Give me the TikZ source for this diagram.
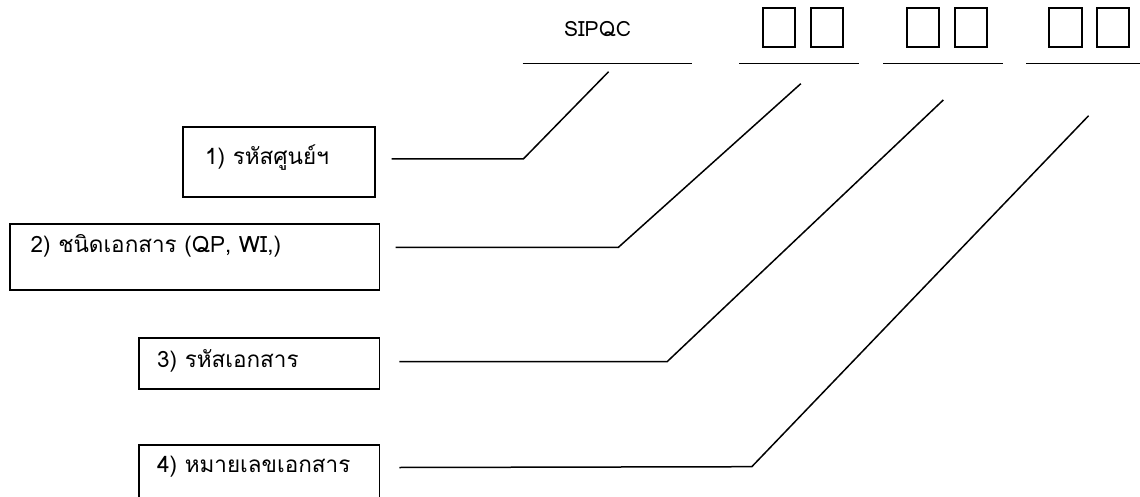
\documentclass[tikz,border=0pt]{standalone}
\usepackage{fontspec}
\newfontfamily\thaifont[Script=Thai]{Loma}
\begin{document}
\begin{tikzpicture}[x=1pt,y=-1pt,
  box/.style={draw, line width=1.8pt, rectangle, inner sep=0pt},
  cell/.style={draw, line width=1.8pt, rectangle, inner sep=0pt,
    minimum width=32.5pt, minimum height=38.5pt},
  lab/.style={anchor=west, inner sep=0pt, font=\thaifont\fontsize{22.5}{26}\selectfont},
  rule/.style={line width=1.8pt},
  link/.style={line width=1.5pt}]
\useasboundingbox (0,0) rectangle (1140,497);

% code header
\node[inner sep=0pt, font=\thaifont\fontsize{21}{25}\selectfont] (code) at (597.5,29.5) {SIPQC};
\draw[rule] (522.5,63.5) -- (691.5,63.5);
\draw[rule] (739,63.5) -- (859,63.5);
\draw[rule] (883,63.5) -- (1003,63.5);
\draw[rule] (1026,63.5) -- (1140,63.5);

% two-digit cells
\node[cell] (s1) at (779,27.5) {};
\node[cell] (s2) at (827,27.5) {};
\node[cell] (s3) at (923,27.5) {};
\node[cell] (s4) at (971,27.5) {};
\node[cell] (s5) at (1065.5,27.5) {};
\node[cell] (s6) at (1113,27.5) {};

% label boxes
\node[box, minimum width=192.5pt, minimum height=70pt] (b1) at (279,162.3) {};
\node[box, minimum width=369.5pt, minimum height=66pt] (b2) at (194.7,257) {};
\node[box, minimum width=240.5pt, minimum height=51.5pt] (b3) at (259.2,363.5) {};
\node[box, minimum width=240.5pt, minimum height=53pt] (b4) at (259.2,471.5) {};

\node[lab] (t1) at (205,157.5) {1) รหัสศูนย์ฯ};
\node[lab] (t2) at (30.5,246) {2) ชนิดเอกสาร (QP, WI,)};
\node[lab] (t3) at (157,361) {3) รหัสเอกสาร};
\node[lab] (t4) at (157,467) {4) หมายเลขเอกสาร};

% leader lines
\coordinate (a1) at (391.7,159);   \coordinate (k1) at (523.3,159);   \coordinate (e1) at (608.6,71.7);
\coordinate (a2) at (395.7,247.3); \coordinate (k2) at (618.4,247.3); \coordinate (e2) at (800.8,83.7);
\coordinate (a3) at (399.3,361.5); \coordinate (k3) at (667.3,361.5); \coordinate (e3) at (943.3,100);
\coordinate (a4) at (399.3,467.5); \coordinate (k4) at (751.8,466.7); \coordinate (e4) at (1088.6,115.7);
\draw[link] (a1) -- (k1) -- (e1);
\draw[link] (a2) -- (k2) -- (e2);
\draw[link] (a3) -- (k3) -- (e3);
\draw[link] (a4) -- (k4) -- (e4);
\end{tikzpicture}
\end{document}
